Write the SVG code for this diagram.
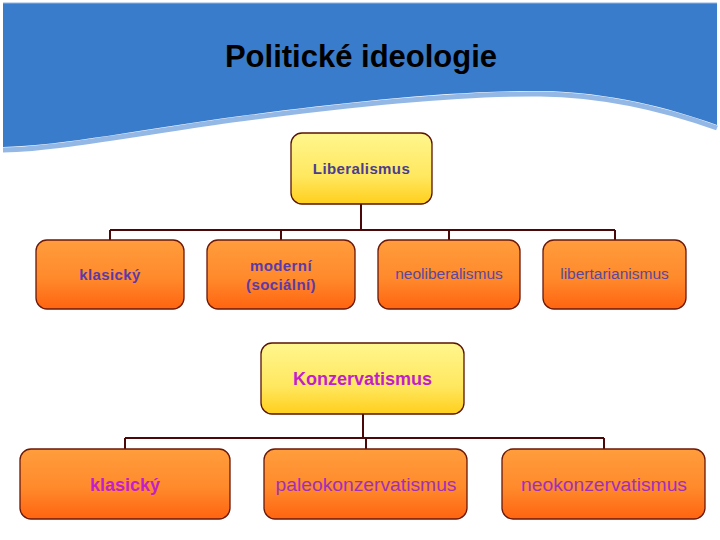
<svg xmlns="http://www.w3.org/2000/svg" width="720" height="540" viewBox="0 0 720 540">
<defs>
<linearGradient id="gy" x1="0" y1="0" x2="0" y2="1"><stop offset="0" stop-color="#fff68e"/><stop offset="0.6" stop-color="#ffe860"/><stop offset="1" stop-color="#ffcf1c"/></linearGradient>
<linearGradient id="go" x1="0" y1="0" x2="0" y2="1"><stop offset="0" stop-color="#ff9d3c"/><stop offset="0.55" stop-color="#ff8a2c"/><stop offset="1" stop-color="#ff6410"/></linearGradient>
<style>
.y{fill:url(#gy);stroke:#5a1400;stroke-width:1.3}
.o{fill:url(#go);stroke:#6a1808;stroke-width:1.3}
.c{fill:none;stroke:#4a0808;stroke-width:2}
text{font-family:"Liberation Sans",Arial,sans-serif;text-anchor:middle}
.b1{font-weight:bold;font-size:15px;fill:#4a3d8e;letter-spacing:0.4px}
.r1{font-size:15.5px;fill:#5a489c}
.k{font-weight:bold;font-size:18px;fill:#c21fc8}
.r2{font-size:18px;fill:#a030b8}
</style>
</defs>
<g id="header">
<path d="M717,128 C670,111 610,95 540,94 C450,93 330,107 240,119 C150,131 60,149 3,150" fill="none" stroke="#93b8e6" stroke-width="5"/>
<path d="M3,3 H717 V125 C670,108 610,92 540,91 C450,90 330,104 240,116 C150,128 60,146 3,147 Z" fill="#3a7ccc" stroke="none"/>
<path d="M3,3 H717" stroke="#8fb4e3" stroke-width="1" fill="none"/>
<text x="361" y="67" style="font-weight:bold;font-size:31px;fill:#000">Politické ideologie</text>
</g>
<g id="connectors">
<path class="c" d="M361,204 V230 M110,230 H615 M110,230 V240 M281,230 V240 M449,230 V240 M615,230 V240"/>
<path class="c" d="M363,414 V438 M125,438 H604 M125,438 V449 M366,438 V449 M604,438 V449"/>
</g>
<g id="liberalismus"><rect class="y" x="291" y="133" width="141" height="71" rx="11"/><text class="b1" x="361.5" y="174">Liberalismus</text></g>
<g id="lib-klasicky"><rect class="o" x="36" y="240" width="148" height="69" rx="11"/><text class="b1" x="110" y="280" style="fill:#5a3aa8">klasický</text></g>
<g id="lib-moderni"><rect class="o" x="207" y="240" width="148" height="69" rx="11"/><text class="b1" x="281" y="271" style="fill:#5a3aa8">moderní</text><text class="b1" x="281" y="290" style="fill:#5a3aa8">(sociální)</text></g>
<g id="neoliberalismus"><rect class="o" x="378" y="240" width="142" height="69" rx="11"/><text class="r1" x="449" y="279">neoliberalismus</text></g>
<g id="libertarianismus"><rect class="o" x="543" y="240" width="143" height="69" rx="11"/><text class="r1" x="614.5" y="279">libertarianismus</text></g>
<g id="konzervatismus"><rect class="y" x="261" y="343" width="203" height="71" rx="11"/><text class="k" x="362.5" y="385">Konzervatismus</text></g>
<g id="kon-klasicky"><rect class="o" x="20" y="449" width="210" height="70" rx="11"/><text class="k" x="125" y="491">klasický</text></g>
<g id="paleokonzervatismus"><rect class="o" x="264" y="449" width="203" height="70" rx="11"/><text class="r2" x="366" y="491" textLength="181" lengthAdjust="spacingAndGlyphs">paleokonzervatismus</text></g>
<g id="neokonzervatismus"><rect class="o" x="502" y="449" width="203" height="70" rx="11"/><text class="r2" x="604" y="491" textLength="166" lengthAdjust="spacingAndGlyphs">neokonzervatismus</text></g>
</svg>
